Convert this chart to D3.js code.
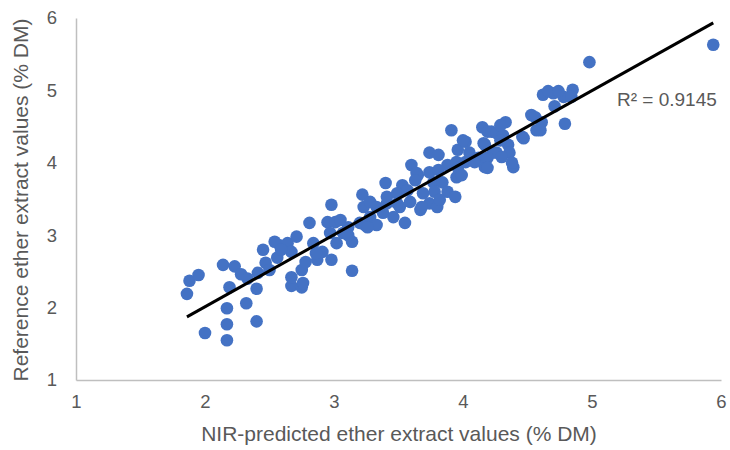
<!DOCTYPE html>
<html>
<head>
<meta charset="utf-8">
<script src="https://cdn.jsdelivr.net/npm/d3@7"></script>
<style>
  body { margin: 0; background: #fff; }
  svg text { font-family: "Liberation Sans", Arial, sans-serif; fill: #595959; }
</style>
</head>
<body>
<svg id="chart" width="730" height="450"></svg>
<script>
// NIR-predicted (x) vs reference (y) ether extract values, % DM
const predicted = [
  1.86,1.88,1.95,2.00,2.14,2.17,2.17,2.17,2.19,2.23,2.28,2.32,2.40,2.40,2.33,2.41,2.45,2.47,2.50,2.56,
  2.58,2.64,2.67,2.71,2.67,2.75,2.67,2.75,2.78,2.81,2.84,2.87,2.91,2.95,2.98,3.01,2.98,3.02,3.07,3.14,
  3.14,3.22,3.24,3.23,2.54,2.59,2.76,2.86,2.97,3.11,3.20,3.28,3.28,3.33,3.40,3.38,3.41,3.33,3.26,3.05,
  3.11,3.41,3.53,3.65,3.55,3.67,3.74,3.51,3.46,
  3.91,4.15,4.19,4.02,3.96,3.74,3.81,3.88,3.95,4.05,4.16,4.17,4.26,3.60,3.64,3.74,3.81,3.63,3.77,3.84,
  3.95,3.49,3.57,3.69,3.78,3.88,3.94,3.49,3.59,3.68,3.80,3.82,3.96,4.02,4.12,4.22,4.26,4.31,4.33,4.35,
  4.39,4.36,4.46,4.53,4.57,4.29,4.29,4.17,4.23,4.09,4.19,4.30,4.38,4.19,3.99,4.00,
  4.62,4.70,4.78,4.66,4.74,4.85,4.84,4.71,4.56,4.61,4.60,4.79,4.47,4.98,5.94
];
const reference = [
  2.19,2.37,2.45,1.65,2.59,1.99,1.77,1.55,2.28,2.57,2.46,2.06,1.81,2.26,2.40,2.48,2.80,2.62,2.52,2.69,
  2.86,2.89,2.77,2.98,2.30,2.28,2.42,2.52,2.63,3.17,2.89,2.66,2.77,3.18,3.42,3.18,2.66,2.89,3.03,2.51,
  2.91,3.56,3.14,3.39,2.91,2.80,2.34,2.75,3.03,3.11,3.17,3.25,3.46,3.39,3.72,3.31,3.44,3.14,3.11,3.21,
  3.00,3.53,3.69,3.83,3.17,3.35,3.44,3.39,3.25,
  4.45,4.49,4.43,4.29,4.18,4.14,4.11,3.97,4.01,4.14,4.27,3.94,4.14,3.97,3.86,3.87,3.90,3.76,3.73,3.73,
  3.80,3.58,3.62,3.58,3.60,3.60,3.53,3.44,3.46,3.39,3.39,3.49,3.93,4.01,4.07,4.43,4.41,4.38,4.56,4.25,
  3.94,4.14,4.36,4.66,4.45,4.52,4.31,4.25,4.14,4.01,4.07,4.08,4.00,3.93,3.83,4.31,
  4.94,4.96,4.91,4.99,4.99,5.01,4.91,4.78,4.63,4.56,4.45,4.54,4.34,5.39,5.63
];
const xTicks = [1, 2, 3, 4, 5, 6];
const yTicks = [1, 2, 3, 4, 5, 6];
const rSquaredLabel = "R² = 0.9145";

const svg = d3.select('#chart');
const plotLeft = 76, plotRight = 721, plotTop = 18, plotBottom = 380;

let x = d3.scaleLinear().domain([1, 6]).range([plotLeft, plotRight]);
let y = d3.scaleLinear().domain([1, 6]).range([plotBottom, plotTop]);

let points = predicted.map((d, i) => ({ x: d, y: reference[i] }));

// axes (Excel style: grey line, no ticks)
let xAxis = svg.append('g')
    .attr('transform', `translate(0,${plotBottom})`)
    .call(d3.axisBottom(x).tickValues(xTicks).tickSize(0).tickPadding(15).tickFormat(d3.format('d')));
let yAxis = svg.append('g')
    .attr('transform', `translate(${plotLeft},0)`)
    .call(d3.axisLeft(y).tickValues(yTicks).tickSize(0).tickPadding(19).tickFormat(d3.format('d')));

[xAxis, yAxis].forEach((a) => {
    a.select('.domain').attr('stroke', '#bfbfbf').attr('stroke-width', 1.5);
    a.selectAll('text').attr('font-size', 18.5).attr('fill', '#595959');
});

// points
svg.append('g')
    .selectAll('circle')
    .data(points)
    .join('circle')
    .attr('cx', (d) => x(d.x))
    .attr('cy', (d) => y(d.y))
    .attr('r', 6.3)
    .attr('fill', '#4472c4');

// linear trendline (least squares)
let mx = d3.mean(points, (d) => d.x);
let my = d3.mean(points, (d) => d.y);
let slope = d3.sum(points, (d) => (d.x - mx) * (d.y - my)) / d3.sum(points, (d) => (d.x - mx) ** 2);
let intercept = my - slope * mx;
let [x0, x1] = d3.extent(points, (d) => d.x);

svg.append('line')
    .attr('x1', x(x0)).attr('y1', y(slope * x0 + intercept))
    .attr('x2', x(x1)).attr('y2', y(slope * x1 + intercept))
    .attr('stroke', '#000')
    .attr('stroke-width', 3);

svg.append('text')
    .attr('x', 617)
    .attr('y', 106)
    .attr('font-size', 19)
    .text(rSquaredLabel);

// axis titles
svg.append('text')
    .attr('x', 399)
    .attr('y', 441)
    .attr('text-anchor', 'middle')
    .attr('font-size', 21)
    .text('NIR-predicted ether extract values (% DM)');

svg.append('text')
    .attr('transform', 'translate(28,200) rotate(-90)')
    .attr('text-anchor', 'middle')
    .attr('font-size', 21)
    .text('Reference ether extract values (% DM)');
</script>
</body>
</html>
